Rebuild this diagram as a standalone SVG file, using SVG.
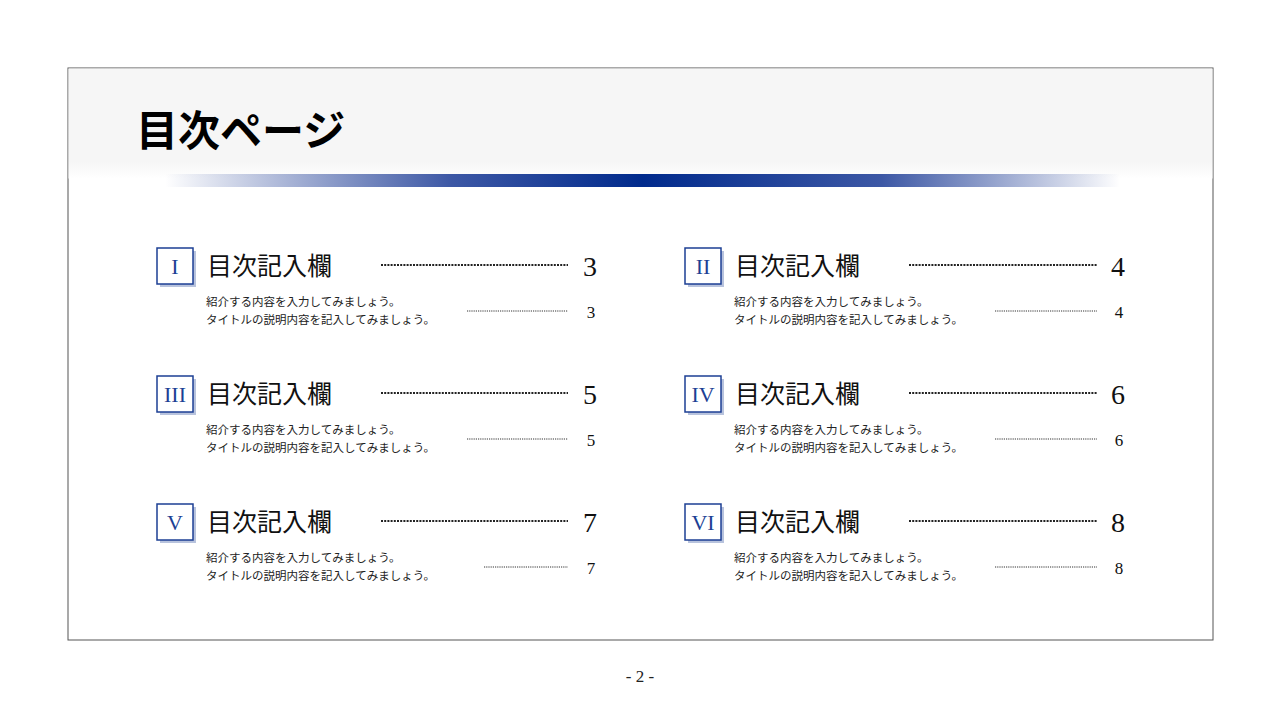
<svg xmlns="http://www.w3.org/2000/svg" width="1280" height="720" viewBox="0 0 1280 720">
<defs>
<linearGradient id="bar" x1="0" x2="1" y1="0" y2="0">
<stop offset="0" stop-color="#0a2a8a" stop-opacity="0"/>
<stop offset="0.3" stop-color="#1a3a95" stop-opacity="0.85"/>
<stop offset="0.5" stop-color="#002a8c"/>
<stop offset="0.75" stop-color="#1a3a95" stop-opacity="0.85"/>
<stop offset="1" stop-color="#0a2a8a" stop-opacity="0"/>
</linearGradient>
<linearGradient id="hdr" x1="0" x2="0" y1="0" y2="1">
<stop offset="0" stop-color="#f6f6f6"/>
<stop offset="0.85" stop-color="#f6f6f6"/>
<stop offset="1" stop-color="#ffffff"/>
</linearGradient>
<style>
.box{fill:#fff;stroke:#1c3f94;stroke-width:1.5}
.sh{fill:#b8c3dd}
.num{font-family:"Liberation Serif",serif;font-size:22px;fill:#1c3f94;text-anchor:middle}
.ttl{font-family:"Noto Sans CJK JP",sans-serif;font-size:25px;fill:#111}
.sub{font-family:"Noto Sans CJK JP",sans-serif;font-size:11.5px;fill:#222}
.dot{stroke:#222;stroke-width:2;stroke-dasharray:2 1.2}
.dots{stroke:#333;stroke-width:1;stroke-dasharray:1.2 1}
.pg{font-family:"Liberation Serif",serif;font-size:28px;fill:#111;text-anchor:middle}
.pgs{font-family:"Liberation Serif",serif;font-size:17px;fill:#111;text-anchor:middle}
</style>
</defs>
<rect width="1280" height="720" fill="#fff"/>
<rect x="68" y="68" width="1145" height="572" fill="#fff" stroke="#555" stroke-width="1"/>
<rect x="68.5" y="68.5" width="1144" height="110" fill="url(#hdr)"/>
<text x="136" y="146" font-family="Noto Sans CJK JP,sans-serif" font-size="42" font-weight="bold" fill="#000">目次ページ</text>
<rect x="165" y="174" width="955" height="13" fill="url(#bar)"/>
<g id="item1">
<rect class="sh" x="160" y="251" width="36" height="36"/><rect class="box" x="157" y="248" width="36" height="36"/>
<text class="num" x="175" y="274">I</text>
<text class="ttl" x="207" y="275">目次記入欄</text>
<line class="dot" x1="381" y1="265" x2="568" y2="265"/>
<text class="pg" x="590" y="276">3</text>
<text class="sub" x="206" y="306">紹介する内容を入力してみましょう。</text>
<text class="sub" x="206" y="324">タイトルの説明内容を記入してみましょう。</text>
<line class="dots" x1="467" y1="311" x2="568" y2="311"/>
<text class="pgs" x="591" y="318">3</text>
</g>
<g id="item2">
<rect class="sh" x="688" y="251" width="36" height="36"/><rect class="box" x="685" y="248" width="36" height="36"/>
<text class="num" x="703" y="274">II</text>
<text class="ttl" x="735" y="275">目次記入欄</text>
<line class="dot" x1="909" y1="265" x2="1097" y2="265"/>
<text class="pg" x="1118" y="276">4</text>
<text class="sub" x="734" y="306">紹介する内容を入力してみましょう。</text>
<text class="sub" x="734" y="324">タイトルの説明内容を記入してみましょう。</text>
<line class="dots" x1="995" y1="311" x2="1097" y2="311"/>
<text class="pgs" x="1119" y="318">4</text>
</g>
<g id="item3">
<rect class="sh" x="160" y="379" width="36" height="36"/><rect class="box" x="157" y="376" width="36" height="36"/>
<text class="num" x="175" y="402">III</text>
<text class="ttl" x="207" y="403">目次記入欄</text>
<line class="dot" x1="381" y1="393" x2="568" y2="393"/>
<text class="pg" x="590" y="404">5</text>
<text class="sub" x="206" y="434">紹介する内容を入力してみましょう。</text>
<text class="sub" x="206" y="452">タイトルの説明内容を記入してみましょう。</text>
<line class="dots" x1="467" y1="439" x2="568" y2="439"/>
<text class="pgs" x="591" y="446">5</text>
</g>
<g id="item4">
<rect class="sh" x="688" y="379" width="36" height="36"/><rect class="box" x="685" y="376" width="36" height="36"/>
<text class="num" x="703" y="402">IV</text>
<text class="ttl" x="735" y="403">目次記入欄</text>
<line class="dot" x1="909" y1="393" x2="1097" y2="393"/>
<text class="pg" x="1118" y="404">6</text>
<text class="sub" x="734" y="434">紹介する内容を入力してみましょう。</text>
<text class="sub" x="734" y="452">タイトルの説明内容を記入してみましょう。</text>
<line class="dots" x1="995" y1="439" x2="1097" y2="439"/>
<text class="pgs" x="1119" y="446">6</text>
</g>
<g id="item5">
<rect class="sh" x="160" y="507" width="36" height="36"/><rect class="box" x="157" y="504" width="36" height="36"/>
<text class="num" x="175" y="530">V</text>
<text class="ttl" x="207" y="531">目次記入欄</text>
<line class="dot" x1="381" y1="521" x2="568" y2="521"/>
<text class="pg" x="590" y="532">7</text>
<text class="sub" x="206" y="562">紹介する内容を入力してみましょう。</text>
<text class="sub" x="206" y="580">タイトルの説明内容を記入してみましょう。</text>
<line class="dots" x1="484" y1="567" x2="568" y2="567"/>
<text class="pgs" x="591" y="574">7</text>
</g>
<g id="item6">
<rect class="sh" x="688" y="507" width="36" height="36"/><rect class="box" x="685" y="504" width="36" height="36"/>
<text class="num" x="703" y="530">VI</text>
<text class="ttl" x="735" y="531">目次記入欄</text>
<line class="dot" x1="909" y1="521" x2="1097" y2="521"/>
<text class="pg" x="1118" y="532">8</text>
<text class="sub" x="734" y="562">紹介する内容を入力してみましょう。</text>
<text class="sub" x="734" y="580">タイトルの説明内容を記入してみましょう。</text>
<line class="dots" x1="995" y1="567" x2="1097" y2="567"/>
<text class="pgs" x="1119" y="574">8</text>
</g>
<text x="640" y="682" font-family="Liberation Serif,serif" font-size="17" fill="#222" text-anchor="middle">- 2 -</text>
</svg>
